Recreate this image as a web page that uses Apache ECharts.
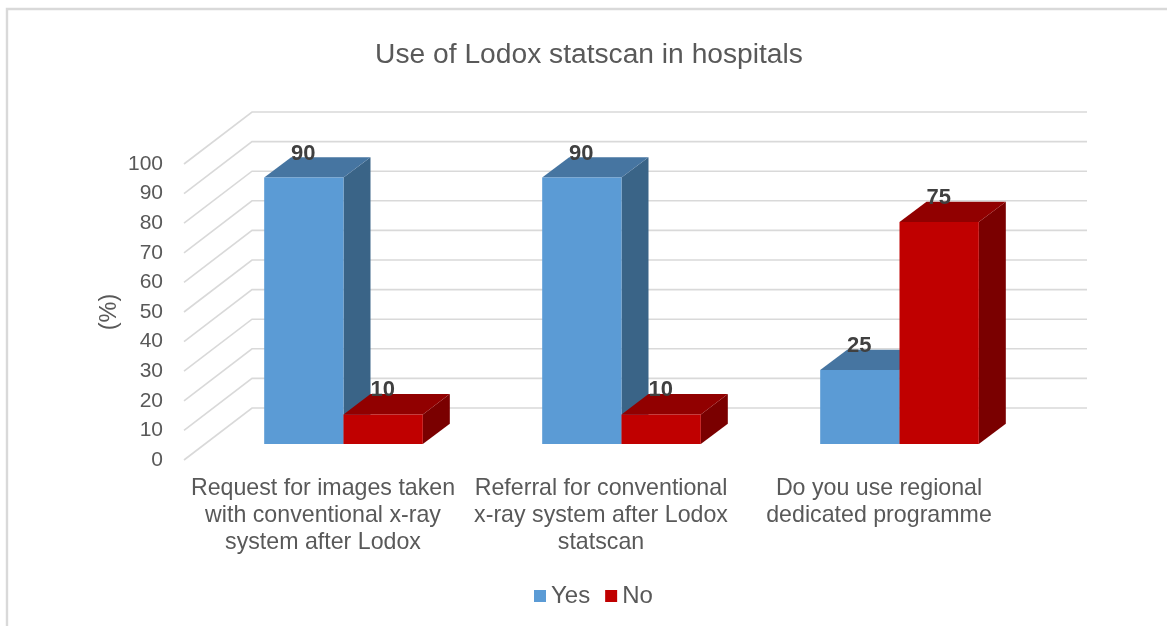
<!DOCTYPE html>
<html>
<head>
<meta charset="utf-8">
<style>html,body{margin:0;padding:0;background:#fff}#c{width:1167px;height:626px}</style>
<script src="https://cdn.jsdelivr.net/npm/echarts@6/dist/echarts.min.js"></script>
</head>
<body>
<div id="c"></div>
<script>
var categories = [
  'Request for images taken\nwith conventional x-ray\nsystem after Lodox',
  'Referral for conventional\nx-ray system after Lodox\nstatscan',
  'Do you use regional\ndedicated programme'
];
var yesValues = [90, 90, 25];
var noValues = [10, 10, 75];
var gridTicks = [0, 10, 20, 30, 40, 50, 60, 70, 80, 90, 100];

var WALL = [68, -52];
var WALL_RIGHT_EXTRA = 69;
var BAR_SHIFT = [20.5, -16];
var BAR_DEPTH = [27, -20.3];
var BAR_RATIO = 0.2853;
var FONT = '"Liberation Sans", Arial, sans-serif';

function poly(pts, color) {
  return { type: 'polygon', shape: { points: pts }, style: { fill: color, stroke: null } };
}
function barRenderer(sideIndex, front, top, side) {
  return function (params, api) {
    var cat = api.value(0), val = api.value(1);
    var base = api.coord([cat, 0]), head = api.coord([cat, val]);
    var w = api.size([1, 0])[0] * BAR_RATIO;
    var x0 = base[0] + sideIndex * w + BAR_SHIFT[0], x1 = x0 + w;
    var yb = base[1] + BAR_SHIFT[1], yt = head[1] + BAR_SHIFT[1];
    var dx = BAR_DEPTH[0], dy = BAR_DEPTH[1];
    return {
      type: 'group',
      children: [
        poly([[x1, yb], [x1 + dx, yb + dy], [x1 + dx, yt + dy], [x1, yt]], side),
        poly([[x0, yt], [x0 + dx, yt + dy], [x1 + dx, yt + dy], [x1, yt]], top),
        poly([[x0, yb], [x1, yb], [x1, yt], [x0, yt]], front),
        {
          type: 'text', z2: 50,
          style: {
            text: String(val), x: (x0 + x1) / 2 - 0.5, y: yt - 24,
            textAlign: 'center', textVerticalAlign: 'middle',
            font: 'bold 22px ' + FONT, fill: '#404040'
          }
        }
      ]
    };
  };
}
function gridRenderer(params, api) {
  var cs = params.coordSys;
  var y = api.coord([0, api.value(1)])[1];
  var left = cs.x, bx = left + WALL[0], by = y + WALL[1], right = cs.x + cs.width + WALL_RIGHT_EXTRA;
  var line = { stroke: '#d9d9d9', lineWidth: 1.6, fill: null };
  return {
    type: 'group',
    children: [
      { type: 'polyline', shape: { points: [[left, y], [bx, by], [right, by]] }, style: line }
    ]
  };
}

var chart = echarts.init(document.getElementById('c'), null, { renderer: 'canvas' });
chart.setOption({
  animation: false,
  backgroundColor: '#fff',
  title: {
    text: 'Use of Lodox statscan in hospitals', left: 589, top: 41, textAlign: 'center', padding: 0,
    textStyle: { fontFamily: FONT, fontSize: 28.2, fontWeight: 'normal', color: '#595959' }
  },
  legend: {
    data: ['Yes', 'No'], left: 534, top: 584, padding: 0, itemWidth: 12, itemHeight: 12, itemGap: 15,
    icon: 'rect',
    textStyle: { fontFamily: FONT, fontSize: 24, color: '#595959' }
  },
  grid: { left: 184, top: 164, width: 834, height: 296 },
  xAxis: {
    type: 'category', data: categories,
    axisLine: { show: false }, axisTick: { show: false }, splitLine: { show: false },
    axisLabel: { interval: 0, margin: 15, fontFamily: FONT, fontSize: 23.2, lineHeight: 27, color: '#595959', align: 'center' }
  },
  yAxis: {
    type: 'value', min: 0, max: 100, interval: 10,
    name: '(%)', nameLocation: 'middle', nameGap: 62, nameRotate: 90, nameMoveOverlap: false,
    nameTextStyle: { fontFamily: FONT, fontSize: 23.5, color: '#595959' },
    axisLine: { show: false }, axisTick: { show: false }, splitLine: { show: false },
    axisLabel: { margin: 21, fontFamily: FONT, fontSize: 21, color: '#595959' }
  },
  series: [
    {
      name: 'grid', type: 'custom', z: 1, silent: true, renderItem: gridRenderer,
      encode: { x: 0, y: 1 }, data: gridTicks.map(function (v) { return [0, v]; })
    },
    {
      name: 'Yes', type: 'custom', z: 2, itemStyle: { color: '#5B9BD5' },
      renderItem: barRenderer(-1, '#5B9BD5', '#4675A1', '#3A6487'),
      encode: { x: 0, y: 1 }, data: yesValues.map(function (v, i) { return [i, v]; })
    },
    {
      name: 'No', type: 'custom', z: 3, itemStyle: { color: '#C00000' },
      renderItem: barRenderer(0, '#C00000', '#910000', '#7A0000'),
      encode: { x: 0, y: 1 }, data: noValues.map(function (v, i) { return [i, v]; })
    }
  ],
  graphic: [
    { type: 'polyline', silent: true, shape: { points: [[7, 626], [7, 9], [1167, 9]] }, style: { stroke: '#d9d9d9', lineWidth: 2.4, fill: null } }
  ]
});
</script>
</body>
</html>
